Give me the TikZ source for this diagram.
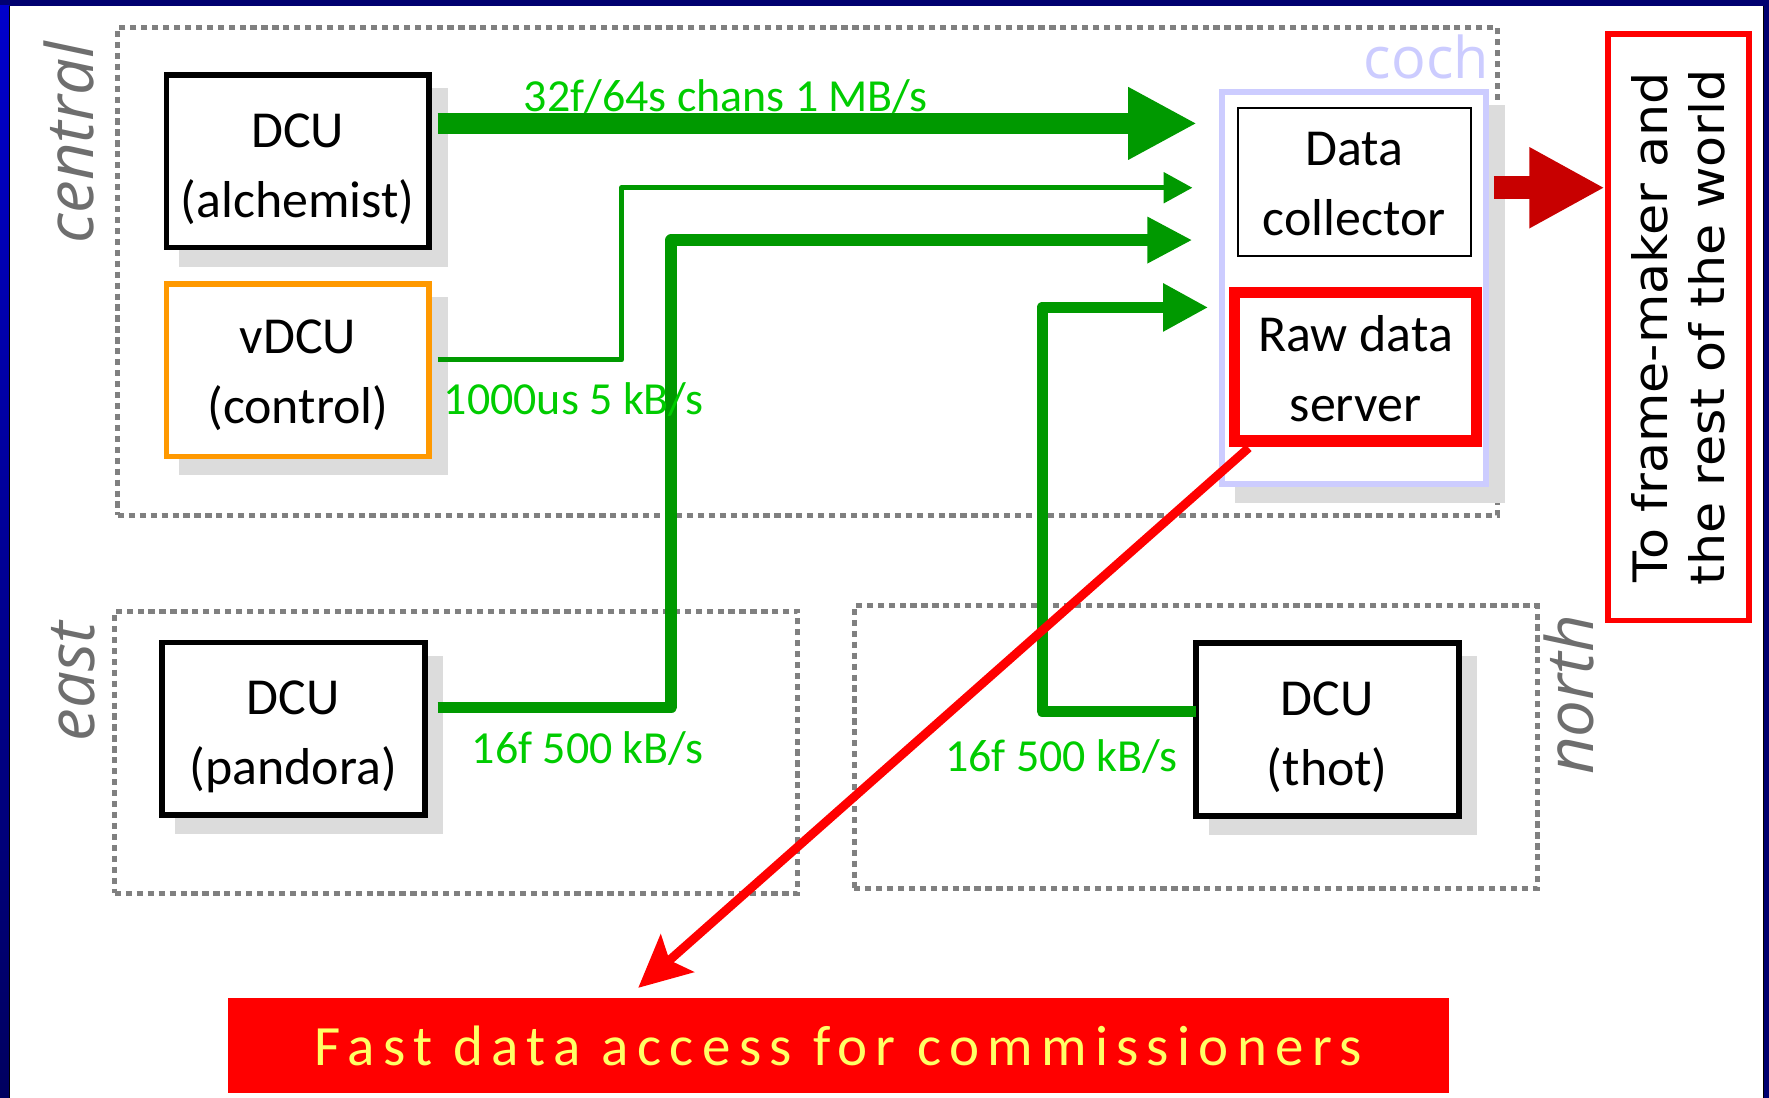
\documentclass[tikz,border=0pt]{standalone}
\usepackage{fontspec}
\setmainfont{Carlito}
\newfontfamily\zonefont{Open Sans}
\newfontfamily\worldfont[FakeStretch=1.07]{DejaVu Sans}
\newfontfamily\bannerfont[LetterSpace=14.6]{Carlito}
\usetikzlibrary{arrows.meta,calc}

\definecolor{navy}{HTML}{000070}
\definecolor{brightblue}{HTML}{0000CC}
\definecolor{deepnavy}{HTML}{000060}
\definecolor{zonegray}{HTML}{808080}
\definecolor{labelgray}{HTML}{6E6E6E}
\definecolor{shadowgray}{HTML}{DCDCDC}
\definecolor{lavender}{HTML}{CCCCFF}
\definecolor{flowgreen}{HTML}{009900}
\definecolor{ratetext}{HTML}{00CC00}
\definecolor{dcuorange}{HTML}{FF9900}
\definecolor{outred}{HTML}{C80000}
\definecolor{bannerred}{HTML}{FF0000}
\definecolor{bannertext}{HTML}{FFFF66}

\pgfdeclarelayer{frame}
\pgfdeclarelayer{bg}
\pgfsetlayers{frame,bg,main}

% lower a line of box text without changing the size the node sees
\newcommand{\sunk}[2]{\raisebox{-#1}[\height][\depth]{#2}}

\tikzset{
  boxtext/.style={font=\fontsize{23pt}{31pt}\selectfont, align=center, inner sep=0pt},
  unitbox/.style={boxtext, draw=black, line width=2.5pt, fill=white,
    minimum width=116.5pt, minimum height=76.5pt},
  zone/.style={draw=zonegray, line width=2.2pt, dash pattern=on 2.75pt off 2.1pt,
    inner sep=0pt},
  zonelabel/.style={font=\zonefont\itshape\fontsize{29pt}{29pt}\selectfont,
    text=labelgray, rotate=90, anchor=base, inner sep=0pt},
  ratelabel/.style={font=\fontsize{20.35pt}{24pt}\selectfont, text=ratetext,
    anchor=base west, inner sep=0pt},
  flow/.style={draw=flowgreen, line join=round},
}

\begin{document}
\begin{tikzpicture}[x=0.5pt, y=-0.5pt]
\useasboundingbox (0,0) rectangle (1568,973);

% slide frame
\begin{pgfonlayer}{frame}
  \fill[navy] (0,0) rectangle (1568,973);
  \shade[top color=brightblue, middle color=brightblue, bottom color=deepnavy]
    (0,5.3) rectangle (8,973);
  \fill[white] (8,5.3) rectangle (1563.6,973);
  \draw[black, line width=0.5pt] (8.3,5.3) -- (8.3,973);
  \draw[black, line width=0.5pt] (1563.3,5.3) -- (1563.3,973);
\end{pgfonlayer}

% zones
\begin{pgfonlayer}{bg}
  \node[zone, minimum width=611.45pt, minimum height=216.05pt] (central) at (715.85,240.45) {};
  \node[zone, minimum width=302.75pt, minimum height=125.1pt] (east) at (404.55,666.7) {};
  \node[zone, minimum width=302.9pt, minimum height=125.2pt] (north) at (1059.9,662.2) {};
\end{pgfonlayer}

\node[zonelabel] (centrallabel) at (83,126.5) {central};
\node[zonelabel] (eastlabel) at (84,604) {east};
\node[zonelabel] (northlabel) at (1412,616) {north};

% data collection units
\node[unitbox] (alch) at (264,143) {\sunk{3.5pt}{DCU}\\\sunk{3.5pt}{(alchemist)}};
\node[unitbox, draw=dcuorange] (ctrl) at (264,328) {\sunk{2.5pt}{vDCU}\\\sunk{2.5pt}{(control)}};
\node[unitbox] (pandora) at (260,646) {\sunk{3.5pt}{DCU}\\\sunk{3.5pt}{(pandora)}};
\node[unitbox] (thot) at (1176.5,646.5) {\sunk{3.5pt}{DCU}\\\sunk{3.5pt}{(thot)}};

% coch machine
\node[draw=lavender, line width=2.75pt, fill=white, inner sep=0pt,
      minimum width=117pt, minimum height=174pt] (coch) at (1200.3,255.2) {};
\node[anchor=base east, inner sep=0pt, text=lavender,
      font=\zonefont\fontsize{25.5pt}{25.5pt}\selectfont]
      (cochlabel) at ([shift={(0,-8.8)}]coch.north east) {coch};
\node[boxtext, draw=black, line width=1pt, minimum width=103.25pt, minimum height=65.7pt]
      (dc) at (1200.3,161.3) {\sunk{1pt}{Data}\\\sunk{1pt}{collector}};
\node[boxtext, draw=bannerred, line width=5.25pt, minimum width=107.25pt, minimum height=66pt]
      (raw) at (1201.5,325.2) {\sunk{1pt}{Raw data}\\\sunk{1pt}{server}};

% shadows
\begin{pgfonlayer}{bg}
  \foreach \n in {alch,ctrl,pandora,thot,coch}
    \fill[shadowgray] ([shift={(14,14.3)}]\n.north west) rectangle ([shift={(14,14.3)}]\n.south east);
\end{pgfonlayer}

% outside world
\node[draw=bannerred, line width=2.5pt, rotate=90, inner sep=0pt, align=center,
      minimum width=260pt, minimum height=62.5pt,
      font=\worldfont\fontsize{21pt}{25pt}\selectfont]
      (world) at (1487.5,290) {To frame-maker and\\the rest of the world};

\node[fill=bannerred, inner sep=0pt, minimum width=541pt, minimum height=42pt,
      text=bannertext, font=\bannerfont\fontsize{25.25pt}{30pt}\selectfont]
      (banner) at (743,927) {Fast data access for commissioners};

% data flows
\draw[flow, line width=9.5pt, -{Triangle[length=30.5pt,width=30pt]}]
  ([shift={(5,-33.6)}]alch.east) -- ([shift={(-19.6,-145.8)}]coch.west);
\draw[flow, line width=2.25pt, -{Triangle[length=12.75pt,width=13.3pt]}]
  ([shift={(5,-9)}]ctrl.east) -- ++(163,0) |- ([shift={(-23.6,-88.8)}]coch.west);
\draw[flow, line width=5.15pt, -{Triangle[length=20pt,width=19.25pt]}]
  ([shift={(9,-19)}]pandora.east) -- ++(207,0) |- ([shift={(-23.6,-42.4)}]coch.west);
\draw[flow, line width=5.15pt, -{Triangle[length=20pt,width=20pt]}]
  ([shift={(3,-16)}]thot.west) -- ++(-136.5,0) |- ([shift={(-9.6,17.3)}]coch.west);

\node[ratelabel] (rateA) at (464,99) {32f/64s chans 1 MB/s};
\node[ratelabel] (rateB) at (393,367) {1000us 5 kB/s};
\node[ratelabel] (rateC) at (417.8,676.6) {16f 500 kB/s};
\node[ratelabel] (rateD) at (837.6,684) {16f 500 kB/s};

% outputs
\draw[outred, line width=10.35pt, -{Triangle[length=33.5pt,width=33.5pt]}]
  ([shift={(4,-88.8)}]coch.east) -- ([shift={(0,-123.6)}]world.north);
\draw[bannerred, line width=3.9pt, -{Stealth[length=23pt,width=22pt,inset=4.5pt]}]
  ([shift={(17.8,0.5)}]raw.south west) -- ([shift={(-177.3,-9)}]banner.north);
\end{tikzpicture}
\end{document}
